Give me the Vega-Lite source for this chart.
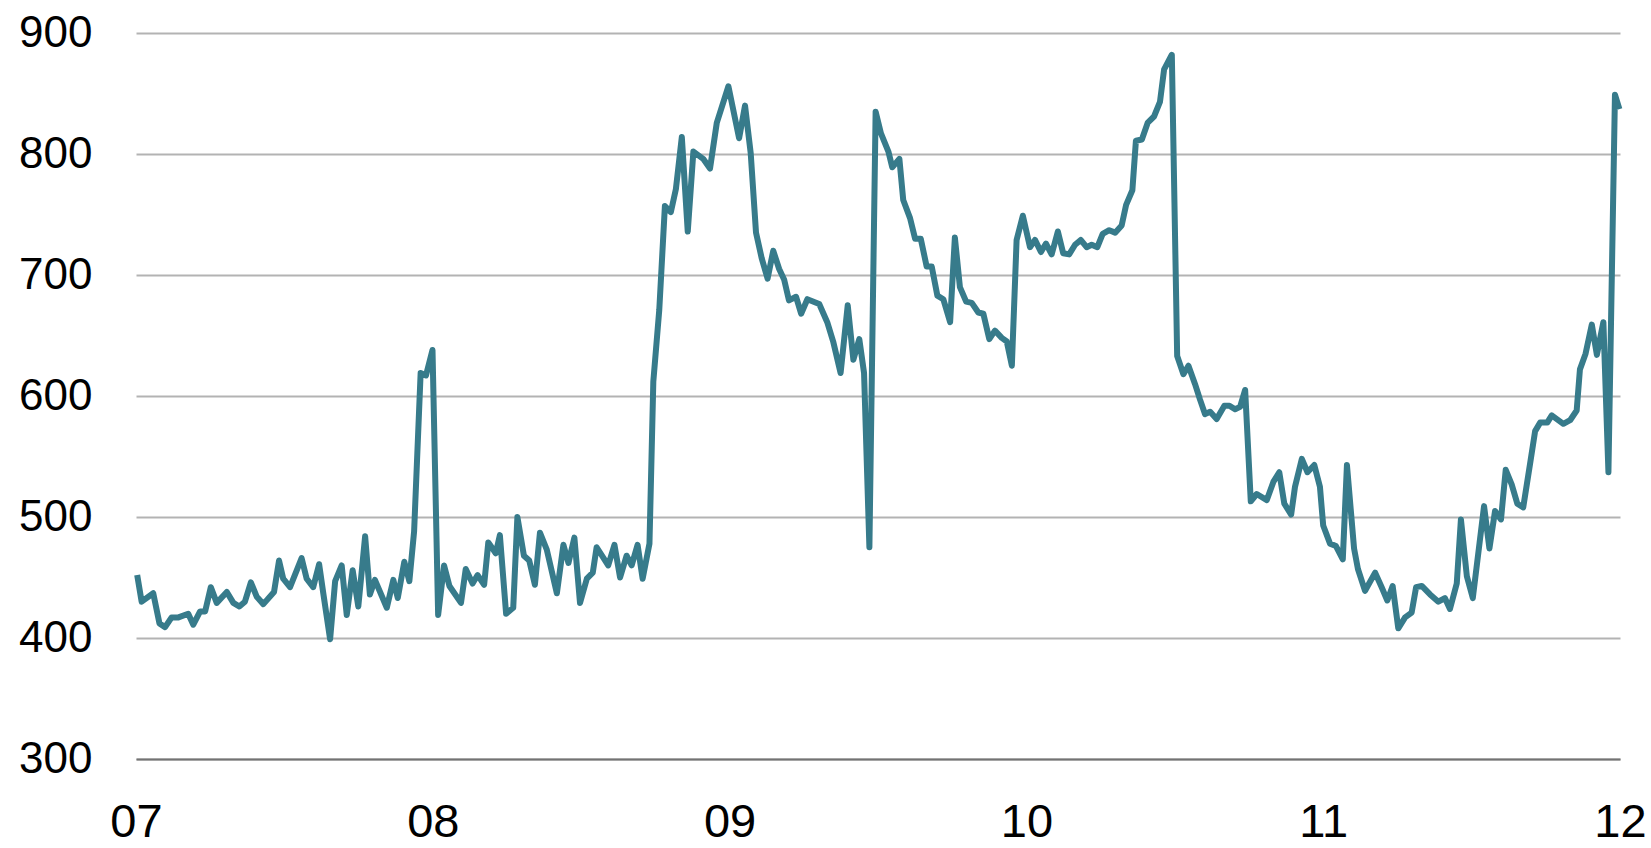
{
  "$schema": "https://vega.github.io/schema/vega-lite/v6.json",
  "width": 1484,
  "height": 726,
  "autosize": {"type": "none"},
  "padding": {"left": 136, "top": 33, "right": 31, "bottom": 89},
  "background": "white",
  "config": {"view": {"stroke": null}},
  "data": {"values": [
    {"year":2007.004,"value":452},{"year":2007.019,"value":430},{"year":2007.058,"value":437},{"year":2007.079,"value":412},
    {"year":2007.098,"value":409},{"year":2007.120,"value":417},{"year":2007.143,"value":417},{"year":2007.176,"value":420},
    {"year":2007.193,"value":411},{"year":2007.216,"value":422},{"year":2007.233,"value":422},{"year":2007.252,"value":442},
    {"year":2007.272,"value":429},{"year":2007.306,"value":438},{"year":2007.328,"value":429},{"year":2007.348,"value":426},
    {"year":2007.367,"value":430},{"year":2007.387,"value":446},{"year":2007.407,"value":434},{"year":2007.429,"value":428},
    {"year":2007.465,"value":438},{"year":2007.482,"value":464},{"year":2007.496,"value":449},{"year":2007.519,"value":442},
    {"year":2007.558,"value":466},{"year":2007.575,"value":449},{"year":2007.597,"value":442},{"year":2007.617,"value":461},
    {"year":2007.631,"value":437},{"year":2007.654,"value":399},{"year":2007.671,"value":447},{"year":2007.693,"value":460},
    {"year":2007.710,"value":419},{"year":2007.730,"value":456},{"year":2007.749,"value":426},{"year":2007.772,"value":484},
    {"year":2007.788,"value":436},{"year":2007.805,"value":448},{"year":2007.845,"value":425},{"year":2007.867,"value":448},
    {"year":2007.882,"value":433},{"year":2007.904,"value":463},{"year":2007.921,"value":447},{"year":2007.937,"value":488},
    {"year":2007.959,"value":619},{"year":2007.977,"value":617},{"year":2007.999,"value":638},{"year":2008.018,"value":419},
    {"year":2008.038,"value":460},{"year":2008.056,"value":443},{"year":2008.095,"value":429},{"year":2008.111,"value":457},
    {"year":2008.134,"value":445},{"year":2008.151,"value":452},{"year":2008.173,"value":444},{"year":2008.187,"value":479},
    {"year":2008.212,"value":470},{"year":2008.226,"value":485},{"year":2008.247,"value":420},{"year":2008.271,"value":425},
    {"year":2008.285,"value":500},{"year":2008.307,"value":468},{"year":2008.325,"value":464},{"year":2008.344,"value":444},
    {"year":2008.361,"value":487},{"year":2008.384,"value":473},{"year":2008.418,"value":437},{"year":2008.440,"value":477},
    {"year":2008.457,"value":462},{"year":2008.477,"value":483},{"year":2008.496,"value":429},{"year":2008.519,"value":449},
    {"year":2008.539,"value":454},{"year":2008.552,"value":475},{"year":2008.591,"value":460},{"year":2008.612,"value":477},
    {"year":2008.631,"value":450},{"year":2008.653,"value":468},{"year":2008.670,"value":460},{"year":2008.690,"value":477},
    {"year":2008.707,"value":449},{"year":2008.730,"value":478},{"year":2008.743,"value":612},{"year":2008.763,"value":671},
    {"year":2008.782,"value":757},{"year":2008.802,"value":752},{"year":2008.819,"value":771},{"year":2008.839,"value":814},
    {"year":2008.859,"value":736},{"year":2008.878,"value":802},{"year":2008.911,"value":796},{"year":2008.934,"value":788},
    {"year":2008.957,"value":826},{"year":2008.996,"value":856},{"year":2009.032,"value":813},{"year":2009.052,"value":840},
    {"year":2009.071,"value":801},{"year":2009.089,"value":735},{"year":2009.108,"value":714},{"year":2009.128,"value":697},
    {"year":2009.147,"value":720},{"year":2009.167,"value":705},{"year":2009.184,"value":696},{"year":2009.200,"value":679},
    {"year":2009.224,"value":682},{"year":2009.241,"value":668},{"year":2009.262,"value":680},{"year":2009.302,"value":676},
    {"year":2009.329,"value":661},{"year":2009.349,"value":645},{"year":2009.374,"value":619},{"year":2009.398,"value":675},
    {"year":2009.417,"value":630},{"year":2009.437,"value":647},{"year":2009.453,"value":619},{"year":2009.471,"value":475},
    {"year":2009.492,"value":835},{"year":2009.510,"value":817},{"year":2009.535,"value":802},{"year":2009.548,"value":789},
    {"year":2009.572,"value":796},{"year":2009.585,"value":762},{"year":2009.608,"value":747},{"year":2009.625,"value":730},
    {"year":2009.644,"value":730},{"year":2009.664,"value":707},{"year":2009.681,"value":707},{"year":2009.700,"value":683},
    {"year":2009.720,"value":680},{"year":2009.743,"value":661},{"year":2009.759,"value":731},{"year":2009.776,"value":690},
    {"year":2009.797,"value":678},{"year":2009.816,"value":677},{"year":2009.838,"value":669},{"year":2009.855,"value":668},
    {"year":2009.875,"value":647},{"year":2009.894,"value":654},{"year":2009.917,"value":648},{"year":2009.934,"value":645},
    {"year":2009.951,"value":625},{"year":2009.967,"value":729},{"year":2009.988,"value":749},{"year":2010.012,"value":723},
    {"year":2010.029,"value":729},{"year":2010.049,"value":719},{"year":2010.066,"value":726},{"year":2010.085,"value":717},
    {"year":2010.106,"value":736},{"year":2010.124,"value":718},{"year":2010.144,"value":717},{"year":2010.164,"value":725},
    {"year":2010.183,"value":729},{"year":2010.203,"value":723},{"year":2010.220,"value":725},{"year":2010.239,"value":723},
    {"year":2010.257,"value":734},{"year":2010.279,"value":737},{"year":2010.299,"value":735},{"year":2010.321,"value":741},
    {"year":2010.336,"value":758},{"year":2010.357,"value":770},{"year":2010.369,"value":811},{"year":2010.389,"value":812},
    {"year":2010.409,"value":826},{"year":2010.430,"value":831},{"year":2010.450,"value":843},{"year":2010.464,"value":870},
    {"year":2010.490,"value":882},{"year":2010.508,"value":633},{"year":2010.529,"value":618},{"year":2010.546,"value":625},
    {"year":2010.568,"value":610},{"year":2010.585,"value":597},{"year":2010.602,"value":585},{"year":2010.619,"value":587},
    {"year":2010.641,"value":581},{"year":2010.667,"value":592},{"year":2010.684,"value":592},{"year":2010.703,"value":589},
    {"year":2010.720,"value":591},{"year":2010.737,"value":605},{"year":2010.756,"value":513},{"year":2010.776,"value":519},
    {"year":2010.810,"value":514},{"year":2010.832,"value":529},{"year":2010.852,"value":537},{"year":2010.869,"value":511},
    {"year":2010.892,"value":502},{"year":2010.905,"value":525},{"year":2010.928,"value":548},{"year":2010.947,"value":537},
    {"year":2010.970,"value":543},{"year":2010.989,"value":525},{"year":2011.000,"value":493},{"year":2011.023,"value":478},
    {"year":2011.043,"value":476},{"year":2011.066,"value":465},{"year":2011.080,"value":543},{"year":2011.104,"value":474},
    {"year":2011.117,"value":457},{"year":2011.141,"value":439},{"year":2011.175,"value":454},{"year":2011.197,"value":442},
    {"year":2011.216,"value":431},{"year":2011.234,"value":443},{"year":2011.253,"value":408},{"year":2011.276,"value":417},
    {"year":2011.298,"value":421},{"year":2011.313,"value":442},{"year":2011.332,"value":443},{"year":2011.360,"value":436},
    {"year":2011.388,"value":430},{"year":2011.410,"value":433},{"year":2011.427,"value":424},{"year":2011.450,"value":445},
    {"year":2011.464,"value":498},{"year":2011.484,"value":451},{"year":2011.504,"value":433},{"year":2011.542,"value":509},
    {"year":2011.560,"value":474},{"year":2011.579,"value":505},{"year":2011.599,"value":498},{"year":2011.615,"value":539},
    {"year":2011.635,"value":527},{"year":2011.654,"value":511},{"year":2011.674,"value":508},{"year":2011.697,"value":544},
    {"year":2011.714,"value":571},{"year":2011.731,"value":578},{"year":2011.755,"value":578},{"year":2011.770,"value":584},
    {"year":2011.809,"value":577},{"year":2011.832,"value":580},{"year":2011.854,"value":588},{"year":2011.865,"value":622},
    {"year":2011.884,"value":635},{"year":2011.905,"value":659},{"year":2011.922,"value":634},{"year":2011.944,"value":661},
    {"year":2011.961,"value":537},{"year":2011.983,"value":849},{"year":2011.998,"value":837}
  ]},
  "mark": {"type": "line", "color": "#377b8b", "strokeWidth": 6, "strokeJoin": "round"},
  "encoding": {
    "x": {
      "field": "year",
      "type": "quantitative",
      "scale": {"domain": [2007, 2012], "nice": false, "zero": false},
      "axis": {
        "title": null,
        "values": [2007, 2008, 2009, 2010, 2011, 2012],
        "labelExpr": "slice(toString(datum.value), 2)",
        "grid": false,
        "ticks": false,
        "domain": true,
        "domainColor": "#737373",
        "domainWidth": 2,
        "labelFont": "Liberation Sans",
        "labelFontSize": 47,
        "labelColor": "#000000",
        "labelPadding": 40,
        "labelFlush": false,
        "labelOverlap": false
      }
    },
    "y": {
      "field": "value",
      "type": "quantitative",
      "scale": {"domain": [300, 900], "nice": false, "zero": false},
      "axis": {
        "title": null,
        "values": [300, 400, 500, 600, 700, 800, 900],
        "grid": true,
        "gridColor": "#b3b3b3",
        "gridWidth": 2,
        "ticks": false,
        "domain": false,
        "labelFont": "Liberation Sans",
        "labelFontSize": 44,
        "labelColor": "#000000",
        "labelPadding": 44,
        "labelOverlap": false
      }
    }
  }
}
